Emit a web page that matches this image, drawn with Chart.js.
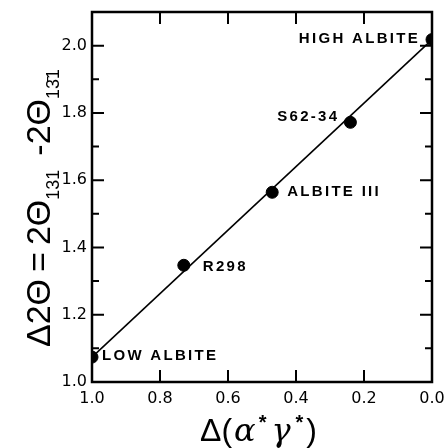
<!DOCTYPE html>
<html>
<head>
<meta charset="utf-8">
<script src="https://cdn.jsdelivr.net/npm/chart.js@4/dist/chart.umd.min.js"></script>
<style>
  body { margin: 0; background: #fff; }
  canvas { display: block; }
</style>
</head>
<body>
<canvas id="chart" width="444" height="448"></canvas>
<script>
// values
const sampleNames = ['LOW ALBITE', 'R298', 'ALBITE III', 'S62-34', 'HIGH ALBITE'];
const deltaAG = [1.0, 0.73, 0.47, 0.24, 0.0];
const delta2Theta = [1.074, 1.347, 1.564, 1.772, 2.018];

const fitX = [1.0, 0.0];
const fitY = [1.074, 2.018];

const xTicks = [1.0, 0.8, 0.6, 0.4, 0.2, 0.0];
const yTicks = [1.0, 1.2, 1.4, 1.6, 1.8, 2.0];
const yMinor = [1.1, 1.3, 1.5, 1.7, 1.9];

// where each sample name sits relative to its point
const nameStyle = [
    { dx: 10, dy: -1, align: 'left' },
    { dx: 19, dy: 2, align: 'left' },
    { dx: 15, dy: 0, align: 'left' },
    { dx: -11, dy: -5, align: 'right' },
    { dx: -12, dy: -1, align: 'right' },
];

const drawExtras = {
    id: 'drawExtras',
    afterDraw(chart) {
        const ctx = chart.ctx;
        const area = chart.chartArea;
        const xs = chart.scales.x;
        const ys = chart.scales.y;

        ctx.save();
        ctx.strokeStyle = '#000';
        ctx.lineWidth = 2.5;
        ctx.strokeRect(area.left, area.top, area.right - area.left, area.bottom - area.top);

        // inward tick marks
        ctx.lineWidth = 2;
        ctx.beginPath();
        xTicks.forEach(v => {
            const px = xs.getPixelForValue(v);
            ctx.moveTo(px, area.bottom); ctx.lineTo(px, area.bottom - 12);
            ctx.moveTo(px, area.top); ctx.lineTo(px, area.top + 12);
        });
        yTicks.forEach(v => {
            const py = ys.getPixelForValue(v);
            ctx.moveTo(area.left, py); ctx.lineTo(area.left + 12, py);
            ctx.moveTo(area.right, py); ctx.lineTo(area.right - 12, py);
        });
        yMinor.forEach(v => {
            const py = ys.getPixelForValue(v);
            ctx.moveTo(area.left, py); ctx.lineTo(area.left + 7, py);
            ctx.moveTo(area.right, py); ctx.lineTo(area.right - 7, py);
        });
        ctx.stroke();

        // sample names
        ctx.fillStyle = '#000';
        ctx.font = 'bold 15px "Liberation Sans"';
        ctx.letterSpacing = '2.3px';
        ctx.textBaseline = 'middle';
        sampleNames.forEach((name, i) => {
            const s = nameStyle[i];
            ctx.textAlign = s.align;
            ctx.fillText(name, xs.getPixelForValue(deltaAG[i]) + s.dx, ys.getPixelForValue(delta2Theta[i]) + s.dy);
        });
        ctx.letterSpacing = '0px';

        // y title, rotated, with subscripts
        ctx.translate(50, 347);
        ctx.rotate(-Math.PI / 2);
        ctx.textAlign = 'left';
        ctx.textBaseline = 'alphabetic';
        const big = '34px "Liberation Sans"';
        const sub = '18px "Liberation Sans"';
        const parts = [
            { t: 'Δ2Θ', f: big, y: 0, gap: 7 },
            { t: '=', f: big, y: 0, gap: 7 },
            { t: '2Θ', f: big, y: 0, gap: 0 },
            { t: '131', f: sub, y: 9, gap: 14 },
            { t: '-2Θ', f: big, y: 0, gap: 0 },
            { t: '13\u03041', f: sub, y: 9, gap: 0 },
        ];
        let x = 0;
        parts.forEach(p => {
            ctx.font = p.f;
            ctx.fillText(p.t, x, p.y);
            x += ctx.measureText(p.t).width + p.gap;
        });
        ctx.restore();

        // x title
        ctx.save();
        ctx.fillStyle = '#000';
        ctx.textBaseline = 'alphabetic';
        ctx.textAlign = 'left';
        const xt = [
            { t: 'Δ(', f: '32px "Liberation Sans"', y: 0, gap: 2 },
            { t: 'α', f: 'italic 32px "DejaVu Serif"', y: 0, gap: 3 },
            { t: '*', f: 'bold 20px "Liberation Sans"', y: -12, gap: 5 },
            { t: 'γ', f: 'italic 32px "DejaVu Serif"', y: 0, gap: 5 },
            { t: '*', f: 'bold 20px "Liberation Sans"', y: -12, gap: 3 },
            { t: ')', f: '32px "Liberation Sans"', y: 0, gap: 0 },
        ];
        let tx = 200;
        xt.forEach(p => {
            ctx.font = p.f;
            ctx.fillText(p.t, tx, 441 + p.y);
            tx += ctx.measureText(p.t).width + p.gap;
        });
        ctx.restore();
    }
};

const tickFont = { family: 'DejaVu Sans', size: 16 };

new Chart(document.getElementById('chart'), {
    type: 'scatter',
    data: {
        datasets: [
            {
                label: 'fit',
                data: fitX.map((x, i) => ({ x: x, y: fitY[i] })),
                showLine: true,
                borderColor: '#000',
                borderWidth: 1.6,
                pointRadius: 0,
                order: 2,
            },
            {
                label: 'samples',
                data: deltaAG.map((x, i) => ({ x: x, y: delta2Theta[i] })),
                backgroundColor: '#000',
                borderColor: '#000',
                pointRadius: 6,
                order: 1,
            },
        ],
    },
    options: {
        responsive: false,
        animation: false,
        layout: { padding: { left: 0, right: 12, top: 12, bottom: 0 } },
        plugins: { legend: { display: false }, tooltip: { enabled: false } },
        scales: {
            x: {
                type: 'linear',
                min: 0,
                max: 1,
                reverse: true,
                grid: { display: false, drawTicks: false },
                border: { display: false },
                afterBuildTicks: s => { s.ticks = xTicks.map(v => ({ value: v })); },
                afterFit: s => { s.height = 66; s.paddingLeft = 0; s.paddingRight = 0; },
                ticks: {
                    font: tickFont,
                    color: '#000',
                    padding: 7,
                    maxRotation: 0,
                    autoSkip: false,
                    callback: v => Number(v).toFixed(1),
                },
            },
            y: {
                type: 'linear',
                min: 1.0,
                max: 2.1,
                grid: { display: false, drawTicks: false },
                border: { display: false },
                afterBuildTicks: s => { s.ticks = yTicks.map(v => ({ value: v })); },
                afterFit: s => { s.width = 92; s.paddingTop = 0; s.paddingBottom = 0; },
                ticks: {
                    font: tickFont,
                    color: '#000',
                    padding: 5,
                    autoSkip: false,
                    callback: v => Number(v).toFixed(1),
                },
            },
        },
    },
    plugins: [drawExtras],
});
</script>
</body>
</html>
